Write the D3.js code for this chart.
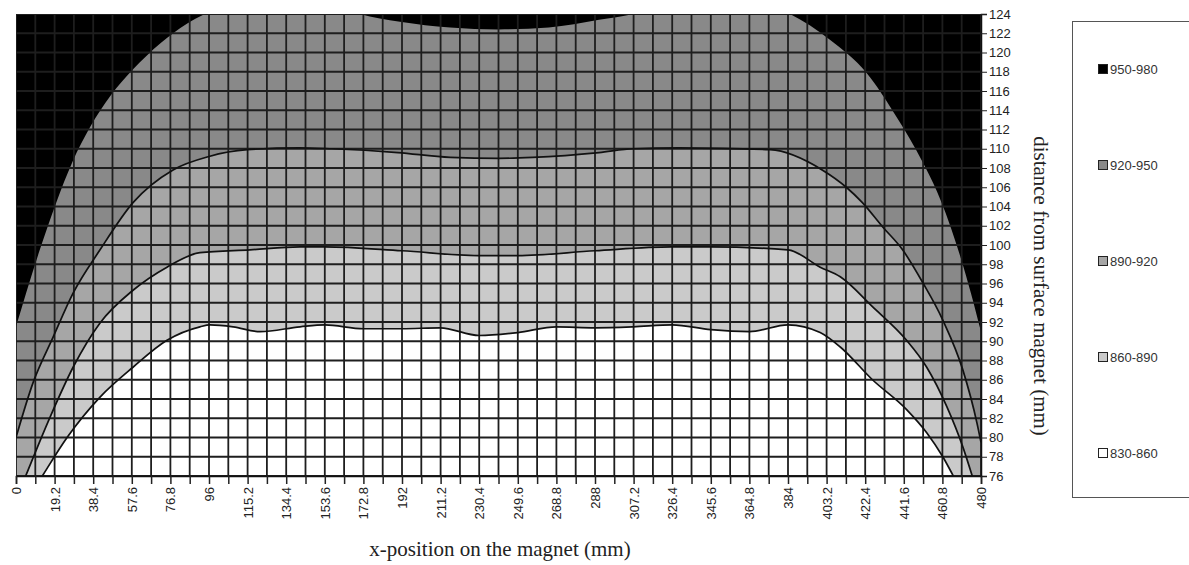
<!DOCTYPE html>
<html lang="en">
<head>
<meta charset="utf-8">
<style>
  body { margin: 0; background: #fff; }
  .axis text { font-family: "Liberation Sans", Arial, sans-serif; font-size: 13px; fill: #222; }
  .title { font-family: "Liberation Serif", "Times New Roman", serif; font-size: 21px; fill: #222; }
  .legend text { font-family: "Liberation Sans", Arial, sans-serif; font-size: 13px; fill: #333; }
</style>
<script src="https://cdn.jsdelivr.net/npm/d3@7"></script>
</head>
<body>
<svg width="1189" height="565"></svg>
<script>
// legend classes, top band first
var bands = ["950-980", "920-950", "890-920", "860-890", "830-860"];
var bandColors = ["#000000", "#898989", "#a6a6a6", "#cacaca", "#ffffff"];

// boundaries between the bands, [x mm, distance mm]
var edge950 = [[0, 91.5], [5, 95], [12, 99.6], [20, 104.4], [28, 108.6], [37, 112.3], [47, 115.5],
    [58, 118.2], [72, 121], [85, 123], [96, 124.2], [115, 125.5], [135, 126], [155, 125.3], [171, 124],
    [191, 123.2], [216, 122.6], [240, 122.4], [265, 122.6], [290, 123.4], [307, 124], [325, 125.3],
    [345, 126], [365, 125.5], [385, 124], [405, 121.3], [423, 117.9], [438, 113.3], [451, 108.6],
    [458, 105.6], [464, 102.4], [470, 98.6], [475, 95], [480, 91]];
var edge920 = [[0, 80], [8.5, 85.7], [18.4, 90.4], [28.4, 95], [41.8, 99.5], [58.2, 104.4], [78.1, 107.8],
    [96, 109.2], [115, 109.9], [141, 110.1], [157, 110], [190, 109.6], [216, 109.1], [240, 109], [257, 109.1],
    [290, 109.6], [307, 110], [330, 110.1], [375, 109.9], [401, 107.8], [413, 106], [421, 104.4], [431, 101.9],
    [441, 99.5], [451, 96.1], [461, 92.2], [471, 87], [478, 81.5], [480, 79.5]];
var edge890 = [[0, 73.5], [5, 76.1], [16.9, 82.1], [28.4, 87.3], [41.8, 91.9], [58.2, 95.3], [75.1, 97.7],
    [91.5, 99.2], [116.4, 99.5], [141.3, 99.8], [153.6, 99.8], [192, 99.4], [230, 98.9], [249.6, 98.9],
    [288, 99.4], [326, 99.8], [345, 99.8], [384, 99.5], [400, 97.7], [410, 96.7], [426, 93.6], [443, 90.1],
    [453, 87.3], [463, 83.2], [471, 79], [475.5, 76.1], [480, 73]];
var edge860 = [[0, 71.5], [13.4, 76.1], [25.4, 80], [41.8, 84.2], [58.2, 87.3], [75.1, 90.1], [91.5, 91.5],
    [96.5, 91.7], [108, 91.5], [121.4, 91], [141.3, 91.5], [153.6, 91.7], [172.8, 91.3], [192, 91.3],
    [211, 91.4], [230.4, 90.6], [249.6, 90.9], [268.8, 91.5], [288, 91.4], [307, 91.5], [326.4, 91.7],
    [345.6, 91.2], [364.8, 91], [384, 91.7], [400, 90.9], [410, 89.4], [426, 86], [443, 82.9], [453, 80.5],
    [461, 78], [466, 76.1], [480, 70.8]];

var xTickLabels = ["0", "19.2", "38.4", "57.6", "76.8", "96", "115.2", "134.4", "153.6", "172.8", "192",
    "211.2", "230.4", "249.6", "268.8", "288", "307.2", "326.4", "345.6", "364.8", "384", "403.2", "422.4",
    "441.6", "460.8", "480"];
var yTickValues = [76, 78, 80, 82, 84, 86, 88, 90, 92, 94, 96, 98, 100, 102, 104, 106, 108, 110, 112, 114,
    116, 118, 120, 122, 124];
var xGridStep = 9.6;

var svg = d3.select("svg");
var plotL = 16, plotR = 981, plotT = 14, plotB = 476;

var x = d3.scaleLinear().domain([0, 480]).range([plotL, plotR]);
var y = d3.scaleLinear().domain([76, 124]).range([plotB, plotT]);

svg.append("clipPath").attr("id", "plot")
    .append("rect").attr("x", plotL).attr("y", plotT)
    .attr("width", plotR - plotL).attr("height", plotB - plotT);

var g = svg.append("g").attr("clip-path", "url(#plot)");

g.append("rect").attr("x", plotL).attr("y", plotT)
    .attr("width", plotR - plotL).attr("height", plotB - plotT)
    .attr("fill", bandColors[4]);

var area = d3.area()
    .x(function(d) { return x(d[0]); })
    .y0(y(140))
    .y1(function(d) { return y(d[1]); })
    .curve(d3.curveMonotoneX);

// paint from the lowest boundary upward
var fills = [[edge860, bandColors[3]], [edge890, bandColors[2]], [edge920, bandColors[1]], [edge950, bandColors[0]]];
fills.forEach(function(f) {
    g.append("path").datum(f[0]).attr("d", area).attr("fill", f[1]);
});

// grid
var xGrid = [];
for (var k = 0; k * xGridStep <= 480.01; k++) xGrid.push(k * xGridStep);

g.selectAll(".vgrid").data(xGrid).enter().append("line")
    .attr("x1", function(d) { return x(d); }).attr("x2", function(d) { return x(d); })
    .attr("y1", plotT).attr("y2", plotB)
    .attr("stroke", "#1e1e1e").attr("stroke-width", 1.8);

g.selectAll(".hgrid").data(yTickValues).enter().append("line")
    .attr("x1", plotL).attr("x2", plotR)
    .attr("y1", function(d) { return y(d); }).attr("y2", function(d) { return y(d); })
    .attr("stroke", "#1e1e1e").attr("stroke-width", 1.8);

var line = d3.line()
    .x(function(d) { return x(d[0]); })
    .y(function(d) { return y(d[1]); })
    .curve(d3.curveMonotoneX);

[edge920, edge890, edge860].forEach(function(e) {
    g.append("path").datum(e).attr("d", line)
        .attr("fill", "none").attr("stroke", "#111").attr("stroke-width", 1.7);
});

// right axis
var yAxis = svg.append("g").attr("class", "axis")
    .attr("transform", "translate(" + plotR + ",0)")
    .call(d3.axisRight(y).tickValues(yTickValues).tickSize(6).tickPadding(2).tickFormat(d3.format("d")));
yAxis.select(".domain").attr("stroke", "#111").attr("stroke-width", 1.5);
yAxis.selectAll(".tick line").attr("stroke", "#222");

// bottom axis
var xAxis = svg.append("g").attr("class", "axis")
    .attr("transform", "translate(0," + plotB + ")")
    .call(d3.axisBottom(x).tickValues(xGrid).tickSize(8)
        .tickFormat(function(d, i) { return i % 2 == 0 ? xTickLabels[i / 2] : ""; }));
xAxis.select(".domain").attr("stroke", "#111").attr("stroke-width", 1.5);
xAxis.selectAll(".tick line").attr("stroke", "#222").attr("stroke-width", 1.5);
xAxis.selectAll(".tick text")
    .attr("transform", "rotate(-90)")
    .attr("text-anchor", "end")
    .attr("x", -11).attr("y", 0).attr("dy", "0.35em");

// titles
svg.append("text").attr("class", "title")
    .attr("x", 500).attr("y", 556)
    .attr("text-anchor", "middle")
    .text("x-position on the magnet (mm)");

svg.append("text").attr("class", "title")
    .attr("transform", "translate(1034,286) rotate(90)")
    .attr("text-anchor", "middle")
    .text("distance from surface magnet (mm)");

// legend
var legend = svg.append("g").attr("class", "legend");
legend.append("rect")
    .attr("x", 1072.5).attr("y", 21.5).attr("width", 130).attr("height", 476)
    .attr("fill", "#fff").attr("stroke", "#555").attr("stroke-width", 1);

var item = legend.selectAll(".item").data(bands).enter().append("g")
    .attr("transform", function(d, i) { return "translate(1098," + (69 + i * 96) + ")"; });
item.append("rect")
    .attr("x", 0.5).attr("y", -4.5).attr("width", 9).attr("height", 9)
    .attr("fill", function(d, i) { return bandColors[i]; })
    .attr("stroke", "#222").attr("stroke-width", 1);
item.append("text")
    .attr("x", 12).attr("y", 0).attr("dy", "0.35em")
    .text(function(d) { return d; });
</script>
</body>
</html>
